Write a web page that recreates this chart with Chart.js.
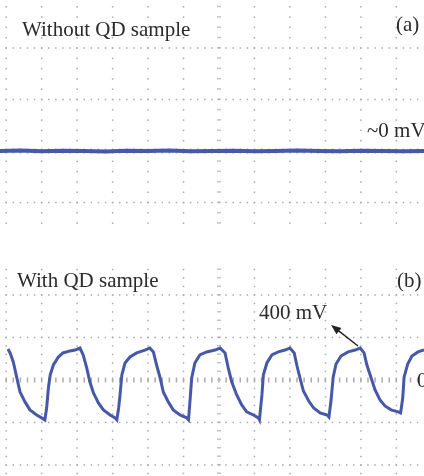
<!DOCTYPE html>
<html>
<head>
<meta charset="utf-8">
<script src="https://cdn.jsdelivr.net/npm/chart.js@4"></script>
<style>
  body { margin: 0; background: #fff; }
  #wrap { position: relative; width: 424px; height: 476px; overflow: hidden; background: #fff; }
  canvas { position: absolute; left: 0; }
  #chartA { top: 0; }
  #chartB { top: 262px; }
</style>
</head>
<body>
<div id="wrap">
  <canvas id="chartA" width="424" height="232"></canvas>
  <canvas id="chartB" width="424" height="214"></canvas>
</div>
<script>
// scope settings: 1 ms per division, 250 mV per division
const msPerDiv = 1;
const mvPerDiv = 250;
const centerTime = 6;

// (a) without QD sample - flat trace around 0 mV
const timeA = [-0.2, 0.4, 1.0, 1.6, 2.2, 2.8, 3.4, 4.0, 4.6, 5.2, 5.8, 6.4, 7.0, 7.6, 8.2, 8.8, 9.4, 10.0, 10.6, 11.2, 11.8];
const signalA = [0, 2, -1, 1, 0, -2, 1, 0, 2, -1, 0, 1, -1, 0, 2, 0, -1, 1, 0, -1, 0];

// (b) with QD sample - chopped signal
const timeB = [
  0.05, 0.11, 0.20, 0.30, 0.39, 0.53, 0.67, 0.86, 1.00, 1.09,
  1.14, 1.19, 1.24, 1.33, 1.47, 1.60, 1.80, 1.94, 2.08, 2.17,
  2.27, 2.36, 2.46, 2.60, 2.74, 2.93, 3.07, 3.12, 3.17, 3.21,
  3.26, 3.35, 3.49, 3.68, 3.91, 4.05, 4.15, 4.24, 4.34, 4.43,
  4.57, 4.71, 4.90, 5.09, 5.14, 5.18, 5.23, 5.32, 5.46, 5.65,
  5.89, 6.03, 6.17, 6.26, 6.36, 6.50, 6.64, 6.78, 6.97, 7.11,
  7.14, 7.21, 7.25, 7.35, 7.49, 7.67, 7.86, 8.00, 8.12, 8.20,
  8.29, 8.38, 8.53, 8.67, 8.85, 9.05, 9.10, 9.16, 9.22, 9.30,
  9.44, 9.64, 9.84, 9.98, 10.09, 10.17, 10.29, 10.40, 10.54, 10.68,
  10.85, 11.05, 11.12, 11.18, 11.22, 11.32, 11.44, 11.61, 11.78
];
const signalB = [
  182, 159, 106, 12, -71, -129, -176, -206, -223, -235,
  -165, -47, 29, 88, 135, 159, 171, 176, 188, 147,
  71, -12, -76, -135, -176, -206, -223, -235, -165, -88,
  29, 100, 135, 159, 176, 188, 165, 88, 12, -71,
  -129, -176, -206, -223, -235, -129, 12, 100, 147, 165,
  176, 188, 159, 71, -12, -88, -147, -188, -206, -223,
  -235, -88, 29, 100, 147, 165, 176, 188, 159, 82,
  6, -65, -124, -165, -194, -206, -218, -118, 18, 94,
  141, 165, 176, 188, 159, 88, 12, -59, -118, -153,
  -176, -188, -194, -106, 18, 94, 141, 165, 176
];

const traceColor = "#4658a8";

// dotted oscilloscope graticule, placed through the chart scales
const scopeGrid = {
  id: "scopeGrid",
  beforeDatasetsDraw(chart) {
    const ctx = chart.ctx;
    const x = chart.scales.x;
    const y = chart.scales.y;
    ctx.save();
    ctx.fillStyle = "#ababab";
    // vertical division lines
    for (let k = Math.ceil(x.min / msPerDiv); k * msPerDiv <= x.max; k++) {
      const px = x.getPixelForValue(k * msPerDiv);
      for (let m = Math.ceil(y.min / mvPerDiv * 5); m * mvPerDiv / 5 <= y.max; m++) {
        const py = y.getPixelForValue(m * mvPerDiv / 5);
        if (k * msPerDiv === centerTime) {
          ctx.fillStyle = "#c4c4c4";
          ctx.fillRect(px - 2, py - 1, 4, 1.5);
          ctx.fillStyle = "#ababab";
        } else {
          ctx.fillRect(px - 0.75, py - 0.75, 1.5, 1.5);
        }
      }
    }
    // horizontal division lines
    for (let j = Math.ceil(y.min / mvPerDiv); j * mvPerDiv <= y.max; j++) {
      const py = y.getPixelForValue(j * mvPerDiv);
      for (let m = Math.ceil(x.min / msPerDiv * 5); m * msPerDiv / 5 <= x.max; m++) {
        const px = x.getPixelForValue(m * msPerDiv / 5);
        if (j === 0) ctx.fillRect(px - 0.75, py - 2.5, 1.5, 5);
        else ctx.fillRect(px - 0.75, py - 0.75, 1.5, 1.5);
      }
    }
    ctx.restore();
  }
};

// text labels and the arrow
const scopeText = {
  id: "scopeText",
  afterDatasetsDraw(chart, args, opts) {
    const ctx = chart.ctx;
    ctx.save();
    ctx.fillStyle = "#2b2b2b";
    ctx.font = "21px 'Liberation Serif', 'Times New Roman', serif";
    ctx.textBaseline = "alphabetic";
    (opts.items || []).forEach((t) => ctx.fillText(t.text, t.x, t.y));
    if (opts.arrow) {
      const a = opts.arrow;
      const x0 = chart.scales.x.getPixelForValue(a.from[0]);
      const y0 = chart.scales.y.getPixelForValue(a.from[1]);
      const x1 = chart.scales.x.getPixelForValue(a.to[0]);
      const y1 = chart.scales.y.getPixelForValue(a.to[1]);
      const ang = Math.atan2(y1 - y0, x1 - x0);
      ctx.strokeStyle = "#222";
      ctx.fillStyle = "#222";
      ctx.lineWidth = 1.5;
      ctx.beginPath();
      ctx.moveTo(x0, y0);
      ctx.lineTo(x1 - 6 * Math.cos(ang), y1 - 6 * Math.sin(ang));
      ctx.stroke();
      ctx.beginPath();
      ctx.moveTo(x1, y1);
      ctx.lineTo(x1 - 10 * Math.cos(ang) + 4 * Math.sin(ang), y1 - 10 * Math.sin(ang) - 4 * Math.cos(ang));
      ctx.lineTo(x1 - 10 * Math.cos(ang) - 4 * Math.sin(ang), y1 - 10 * Math.sin(ang) + 4 * Math.cos(ang));
      ctx.closePath();
      ctx.fill();
    }
    ctx.restore();
  }
};

function makeScope(canvasId, times, values, yMin, yMax, width, textOpts) {
  const ctx = document.getElementById(canvasId).getContext("2d");
  return new Chart(ctx, {
    type: "line",
    data: {
      datasets: [
        {
          data: times.map((t, i) => ({ x: t, y: values[i] })),
          borderColor: traceColor,
          borderWidth: width,
          pointRadius: 0,
          tension: 0,
          fill: false,
        },
      ],
    },
    options: {
      responsive: false,
      animation: false,
      layout: { padding: 0 },
      scales: {
        x: { type: "linear", min: -0.175, max: 11.78, display: false },
        y: { type: "linear", min: yMin, max: yMax, display: false },
      },
      plugins: {
        legend: { display: false },
        tooltip: { enabled: false },
        scopeText: textOpts,
      },
    },
    plugins: [scopeGrid, scopeText],
  });
}

makeScope("chartA", timeA, signalA, -393, 733, 4, {
  items: [
    { text: "Without QD sample", x: 22, y: 36 },
    { text: "(a)", x: 396, y: 31 },
    { text: "~0 mV", x: 367, y: 137 },
  ],
});

makeScope("chartB", timeB, signalB, -565, 694, 3, {
  items: [
    { text: "With QD sample", x: 17, y: 25 },
    { text: "(b)", x: 397, y: 25 },
    { text: "400 mV", x: 259, y: 57 },
    { text: "0 mV", x: 417, y: 125 },
  ],
  arrow: { from: [9.92, 200], to: [9.16, 324] },
});
</script>
</body>
</html>
